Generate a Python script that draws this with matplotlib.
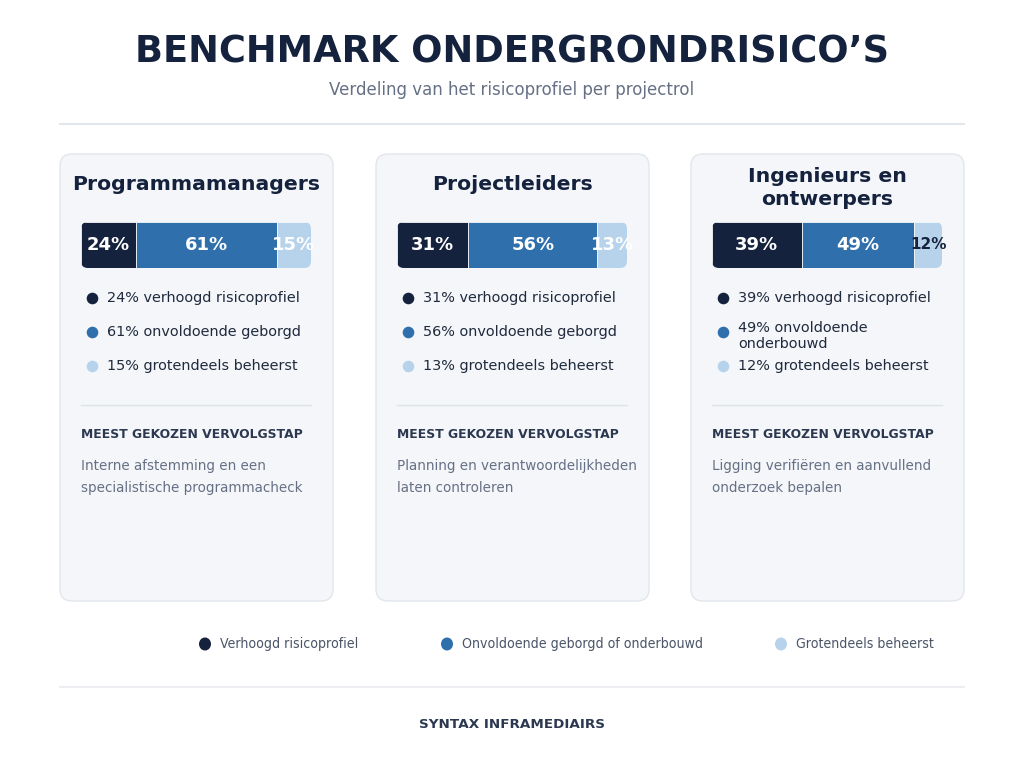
import numpy as np
import matplotlib.pyplot as plt
from matplotlib.patches import FancyBboxPatch, Ellipse

plt.rcParams['font.family'] = ['DejaVu Sans']

# data
roles = ['Programmamanagers', 'Projectleiders', 'Ingenieurs en\nontwerpers']
high = [24, 31, 39]
insufficient = [61, 56, 49]
managed = [15, 13, 12]
insufficient_word = ['onvoldoende geborgd', 'onvoldoende geborgd', 'onvoldoende\nonderbouwd']
next_steps = ['Interne afstemming en een\nspecialistische programmacheck',
              'Planning en verantwoordelijkheden\nlaten controleren',
              'Ligging verifiëren en aanvullend\nonderzoek bepalen']
legend_labels = ['Verhoogd risicoprofiel', 'Onvoldoende geborgd of onderbouwd', 'Grotendeels beheerst']

DARK = '#15223d'
MID = '#2f6fac'
LIGHT = '#b7d3ec'
TEXT = '#1f2a3d'
GRAY = '#667085'
colors = [DARK, MID, LIGHT]

W, H = 1024, 768
fig = plt.figure(figsize=(W / 100, H / 100), dpi=100)
fig.patch.set_facecolor('white')
ax = fig.add_axes([0, 0, 1, 1])
ax.set_xlim(0, W)
ax.set_ylim(H, 0)
ax.axis('off')

ax.text(512, 52, 'BENCHMARK ONDERGRONDRISICO’S', ha='center', va='center',
        fontsize=26.5, fontweight='bold', color=DARK)
ax.text(512, 90, 'Verdeling van het risicoprofiel per projectrol', ha='center', va='center',
        fontsize=12, color=GRAY)
ax.plot([60, 964], [124, 124], color='#e3e6ea', lw=1.5)

card_x = [60, 376, 691]
card_w = 273
for i in range(3):
    x0 = card_x[i]
    card = FancyBboxPatch((x0, 154), card_w, 447, boxstyle='round,pad=0,rounding_size=12',
                          facecolor='#f4f6f9', edgecolor='#e2e6eb', lw=1)
    ax.add_patch(card)
    cx = x0 + card_w / 2
    if '\n' in roles[i]:
        ax.text(cx, 188, roles[i], ha='center', va='center', fontsize=14.7, fontweight='bold',
                color=DARK, linespacing=1.3)
    else:
        ax.text(cx, 185, roles[i], ha='center', va='center', fontsize=14.7, fontweight='bold',
                color=DARK)

    # stacked bar (1 unit = 2.3 px in both directions)
    bx = x0 + 21
    bw = 230
    bax = fig.add_axes([bx / W, 1 - 268 / H, bw / W, 46 / H])
    bax.set_xlim(0, 100)
    bax.set_ylim(-10, 10)
    bax.axis('off')
    vals = [high[i], insufficient[i], managed[i]]
    lefts = np.cumsum([0] + vals[:-1])
    clip = FancyBboxPatch((0, -10), 100, 20, boxstyle='round,pad=0,rounding_size=3',
                          transform=bax.transData, facecolor='none', edgecolor='none')
    bax.add_patch(clip)
    for j in range(3):
        bars = bax.barh(0, vals[j], left=lefts[j], height=20, color=colors[j],
                        edgecolor='#f4f6f9', linewidth=0.6)
        for b in bars:
            b.set_clip_path(clip)
        mid = lefts[j] + vals[j] / 2
        if j == 2 and vals[j] < 13:
            bax.text(mid, 0, f'{vals[j]}%', ha='center', va='center', fontsize=11,
                     fontweight='bold', color=DARK, clip_on=False)
        else:
            bax.text(mid, 0, f'{vals[j]}%', ha='center', va='center', fontsize=13,
                     fontweight='bold', color='white', clip_on=False)

    # bullet list
    items = [f'{high[i]}% verhoogd risicoprofiel',
             f'{insufficient[i]}% {insufficient_word[i]}',
             f'{managed[i]}% grotendeels beheerst']
    ys = [298, 332 if '\n' not in items[1] else 336, 366]
    dot_ys = [298, 332, 366]
    for j in range(3):
        ax.scatter(x0 + 32, dot_ys[j], s=70, color=colors[j], zorder=3, linewidths=0)
        ax.text(x0 + 47, ys[j], items[j], ha='left', va='center', fontsize=10.4,
                color=TEXT, linespacing=1.2)

    ax.plot([x0 + 21, x0 + 251], [405, 405], color='#dfe3e8', lw=1)
    ax.text(x0 + 21, 435, 'MEEST GEKOZEN VERVOLGSTAP', ha='left', va='center',
            fontsize=8.9, fontweight='bold', color='#2b3850')
    ax.text(x0 + 21, 477, next_steps[i], ha='left', va='center', fontsize=9.75,
            color=GRAY, linespacing=1.7)

# legend
leg_x = [205, 447, 781]
for j in range(3):
    ax.add_patch(Ellipse((leg_x[j], 644), 12, 13, color=colors[j], zorder=3, lw=0))
    ax.text(leg_x[j] + 15, 644, legend_labels[j], ha='left', va='center', fontsize=10.1,
            color='#4a5568', fontstretch='condensed')

ax.plot([60, 964], [687, 687], color='#eceef1', lw=1.5)
ax.text(512, 724, 'SYNTAX INFRAMEDIAIRS', ha='center', va='center', fontsize=9.7,
        fontweight='bold', color='#2b3850')

fig.savefig('out.png', dpi=100, facecolor='white')
